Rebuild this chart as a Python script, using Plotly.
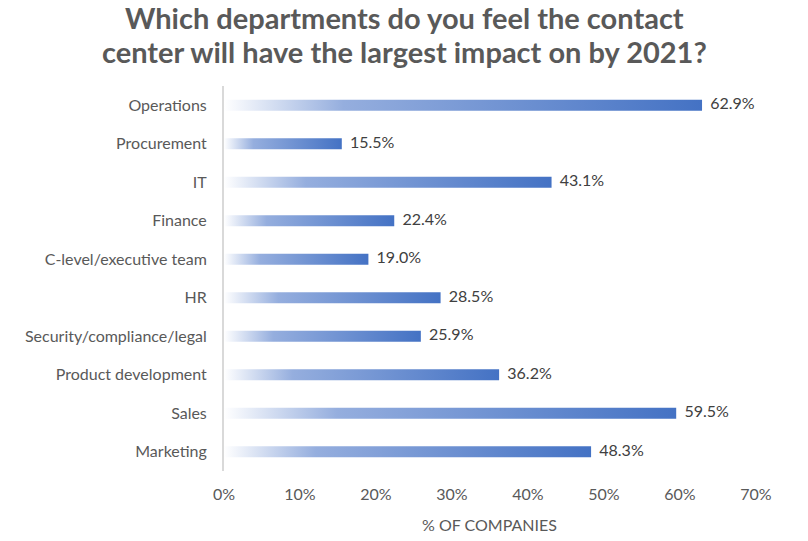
import plotly.graph_objects as go

categories = ["Marketing", "Sales", "Product development", "Security/compliance/legal",
              "HR", "C-level/executive team", "Finance", "IT", "Procurement", "Operations"]
values = [48.3, 59.5, 36.2, 25.9, 28.5, 19.0, 22.4, 43.1, 15.5, 62.9]
x_ticks = [0, 10, 20, 30, 40, 50, 60, 70]
x_tick_labels = ["0%", "10%", "20%", "30%", "40%", "50%", "60%", "70%"]
title_lines = ["Which departments do you feel the contact",
               "center will have the largest impact on by 2021?"]

FONT = "Lato, sans-serif"
W, H = 808, 541
L, R, T, B = 224, 52, 86, 70
PW, PH = W - L - R, H - T - B
half = 0.14
grad = [[0, "rgba(255,255,255,1)"], [0.25, "#95AEDE"], [1, "#4472C4"]]

fig = go.Figure()
for i, (c, v) in enumerate(zip(categories, values)):
    fig.add_trace(go.Scatter(
        x=[0, v, v, 0, 0], y=[i - half, i - half, i + half, i + half, i - half],
        mode="lines", line=dict(width=0), fill="toself",
        fillgradient=dict(type="horizontal", colorscale=grad),
        hoverinfo="skip", showlegend=False, cliponaxis=False))

fig.add_trace(go.Scatter(
    x=values, y=list(range(len(categories))), mode="text",
    text=[f"  {v:.1f}%" for v in values], textposition="middle right",
    textfont=dict(family=FONT, size=16, color="#404040"),
    showlegend=False, hoverinfo="skip", cliponaxis=False))

def py(page_y):
    return 1 - (page_y - T) / PH

def px(page_x):
    return (page_x - L) / PW

annotations = [
    dict(text=f"<b>{t}</b>", xref="paper", yref="paper", x=px(404), y=py(yy),
         xanchor="center", yanchor="middle", showarrow=False,
         font=dict(family=FONT, size=29, color="#595959"))
    for t, yy in zip(title_lines, [17, 51])
]
annotations.append(dict(text="% OF COMPANIES", xref="paper", yref="paper",
                        x=px(489), y=py(524), xanchor="center", yanchor="middle",
                        showarrow=False, font=dict(family=FONT, size=16, color="#595959")))

fig.update_layout(
    width=W, height=H,
    margin=dict(l=L, r=R, t=T, b=B, autoexpand=False),
    paper_bgcolor="white", plot_bgcolor="white",
    xaxis=dict(range=[0, 70], tickvals=x_ticks, ticktext=x_tick_labels,
               showgrid=False, zeroline=False, showline=False, automargin=False,
               ticks="", ticklabelstandoff=12,
               tickfont=dict(family=FONT, size=16, color="#595959")),
    yaxis=dict(range=[-0.5, len(categories) - 0.5],
               tickvals=list(range(len(categories))), ticktext=categories,
               showgrid=False, zeroline=False, showline=True, automargin=False,
               linecolor="#D9D9D9", linewidth=2, ticks="", ticklabelstandoff=12,
               tickfont=dict(family=FONT, size=16, color="#595959")),
    annotations=annotations,
)

fig.write_html("out.html", config={"displayModeBar": False},
               post_script="document.body.style.margin='0';document.body.style.overflow='hidden';")
